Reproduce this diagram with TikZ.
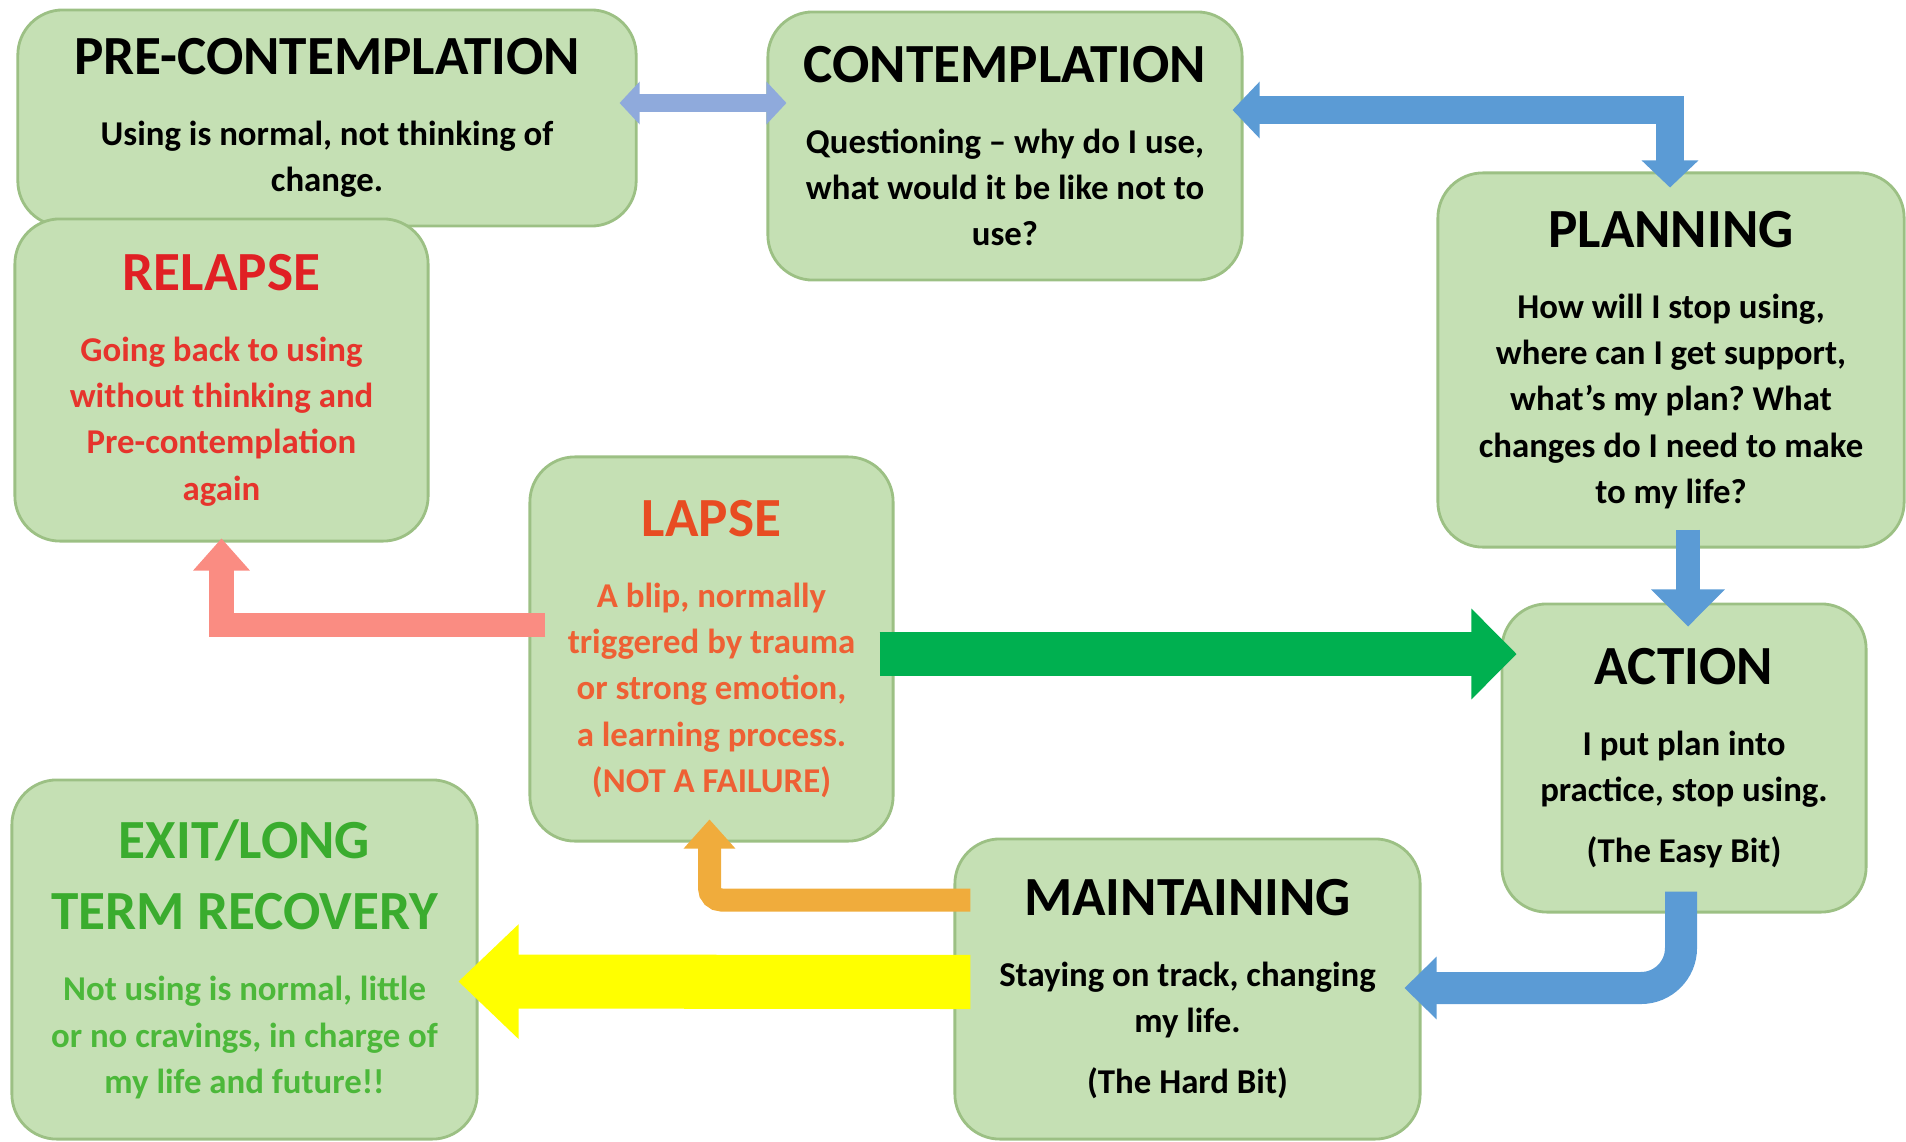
\documentclass[tikz,border=0pt]{standalone}
\usepackage{fontspec}
\setmainfont{Carlito}
\usetikzlibrary{positioning, calc, arrows.meta}
\frenchspacing

\definecolor{boxgreen}{RGB}{197, 224, 180}
\definecolor{boxedge}{RGB}{156, 192, 132}
\definecolor{relapsered}{RGB}{224, 32, 36}
\definecolor{relapsetext}{RGB}{230, 52, 44}
\definecolor{lapseorange}{RGB}{232, 76, 34}
\definecolor{lapsetext}{RGB}{238, 96, 52}
\definecolor{exitgreen}{RGB}{58, 172, 46}
\definecolor{exittext}{RGB}{76, 184, 58}
\definecolor{paleblue}{RGB}{143, 170, 220}
\definecolor{midblue}{RGB}{91, 155, 213}
\definecolor{bargreen}{RGB}{0, 176, 80}
\definecolor{salmon}{RGB}{250, 140, 130}
\definecolor{amber}{RGB}{240, 172, 60}
\definecolor{brightyellow}{RGB}{255, 255, 0}

\newcommand{\stagetitle}{\fontsize{15.7}{20}\selectfont}

\begin{document}
\begin{tikzpicture}[x=0.01cm, y=0.01cm,
  stage/.style={draw = boxedge, fill = boxgreen, line width = 0.8pt, rounded corners = 0.45cm,
    align = center, inner sep = 0pt, font = \fontsize{9.9}{13.2}\selectfont\bfseries},
  bluearrow/.style={draw = midblue, line width = 0.28cm},
  paleband/.style={draw = paleblue, line width = 0.18cm},
  greenbar/.style={draw = bargreen, line width = 0.44cm},
  salmonband/.style={draw = salmon, line width = 0.24cm},
  amberband/.style={draw = amber, line width = 0.23cm},
  yellowbar/.style={draw = brightyellow, line width = 0.54cm}]
  \useasboundingbox (0,0) rectangle (1906,1141);

  % stages
  \node [stage, minimum width = 6.18cm, minimum height = 2.16cm] (pre) at (327,1023)
    {{\stagetitle PRE-CONTEMPLATION}\\[7pt] Using is normal, not thinking of\\ change.};
  \node [stage, minimum width = 4.74cm, minimum height = 2.68cm] (cont) at (1005,995)
    {{\stagetitle CONTEMPLATION}\\[7pt] Questioning – why do I use,\\ what would it be like not to\\ use?};
  \node [stage, minimum width = 4.66cm, minimum height = 3.74cm] (plan) at (1671,781)
    {{\stagetitle PLANNING}\\[7pt] How will I stop using,\\ where can I get support,\\ what’s my plan? What\\ changes do I need to make\\ to my life?};
  \node [stage, minimum width = 4.13cm, minimum height = 3.22cm, text = relapsetext] (relapse) at (221.5,761)
    {{\stagetitle\color{relapsered} RELAPSE}\\[7pt] Going back to using\\ without thinking and\\ Pre-contemplation\\ again};
  \node [stage, minimum width = 3.63cm, minimum height = 3.84cm, text = lapsetext] (lapse) at (711.5,492)
    {{\stagetitle\color{lapseorange} LAPSE}\\[7pt] A blip, normally\\ triggered by trauma\\ or strong emotion,\\ a learning process.\\ (NOT A FAILURE)};
  \node [stage, minimum width = 3.64cm, minimum height = 3.08cm] (action) at (1684,383)
    {{\stagetitle ACTION}\\[7pt] I put plan into\\ practice, stop using.\\[4pt] (The Easy Bit)};
  \node [stage, minimum width = 4.65cm, minimum height = 3.00cm] (maint) at (1187.5,152)
    {{\stagetitle MAINTAINING}\\[7pt] Staying on track, changing\\ my life.\\[4pt] (The Hard Bit)};
  \node [stage, minimum width = 4.65cm, minimum height = 3.59cm, text = exittext] (exit) at (244.5,181.5)
    {{\stagetitle\color{exitgreen} EXIT/LONG}\\[7pt] {\stagetitle\color{exitgreen} TERM RECOVERY}\\[7pt] Not using is normal, little\\ or no cravings, in charge of\\ my life and future!!};

  % arrows
  \draw [paleband, {Triangle[width = 0.42cm, length = 0.2cm, line width = 1pt]}-{Triangle[width = 0.42cm, length = 0.2cm, line width = 1pt]}]
    ($(pre.east)+(-18,15)$) to ($(cont.west)+(20,43)$);
  \draw [bluearrow, {Triangle[width = 0.56cm, length = 0.27cm, line width = 1pt]}-{Triangle[width = 0.56cm, length = 0.27cm, line width = 1pt]}]
    ($(cont.east)+(-11,36)$) -| ($(plan.north)+(-1,-16)$);
  \draw [bluearrow, line width = 0.24cm, -{Triangle[width = 0.73cm, length = 0.37cm, line width = 1pt]}]
    ($(plan.south)+(17,19)$) to ($(action.north)+(4,-24)$);
  \draw [bluearrow, line width = 0.32cm, rounded corners = 0.4cm, -{Triangle[width = 0.62cm, length = 0.32cm, line width = 1pt]}]
    ($(action.south)+(-3,22)$) |- ($(maint.east)+(-17,1)$);
  \draw [greenbar, -{Triangle[width = 0.9cm, length = 0.45cm, line width = 1pt]}]
    ($(lapse.east)+(-15,-5)$) to ($(action.west)+(16,104)$);
  \draw [salmonband, -{Triangle[width = 0.56cm, length = 0.32cm, line width = 1pt]}]
    ($(lapse.west)+(17,24)$) -| ($(relapse.south)+(0,4)$);
  \draw [amberband, rounded corners = 0.12cm, -{Triangle[width = 0.51cm, length = 0.29cm, line width = 1pt]}]
    ($(maint.west)+(17,89)$) -| ($(lapse.south)+(-2,23)$);
  \draw [yellowbar, -{Triangle[width = 1.14cm, length = 0.6cm, line width = 1pt]}]
    ($(maint.west)+(17,7)$) to ($(exit.east)+(-20,-22)$);
\end{tikzpicture}
\end{document}
